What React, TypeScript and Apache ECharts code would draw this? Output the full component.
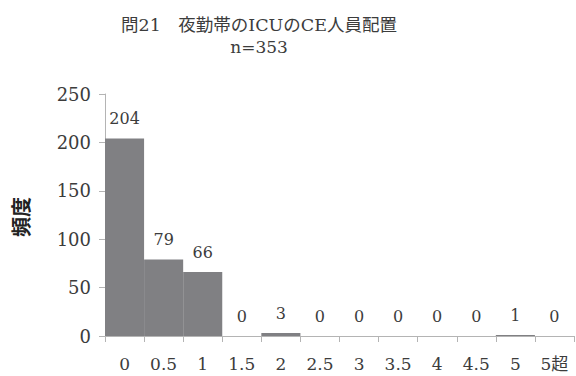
import React, { useEffect, useRef } from "react";
import * as echarts from "echarts";

const categories = ["0", "0.5", "1", "1.5", "2", "2.5", "3", "3.5", "4", "4.5", "5", "5超"];
const frequencies = [204, 79, 66, 0, 3, 0, 0, 0, 0, 0, 1, 0];
const yTicks = { min: 0, max: 250, interval: 50 };
const titleText = "問21　夜勤帯のICUのCE人員配置";
const subText = "n=353";
const yName = "頻度";

const FONT = "'DejaVu Serif', 'Liberation Serif', 'Noto Sans CJK JP', serif";
const TEXT = "#3c3c3c";

export default function App() {
  const ref = useRef<HTMLDivElement>(null);
  useEffect(() => {
    const chart = echarts.init(ref.current!, null, { renderer: "svg" });
    chart.setOption({
      animation: false,
      backgroundColor: "#ffffff",
      grid: { left: 105, right: 2, top: 94, bottom: 40, containLabel: false },
      graphic: [
        {
          type: "text",
          x: 259,
          y: 25,
          style: { text: titleText, font: `17.5px ${FONT}`, fill: TEXT, textAlign: "center", textVerticalAlign: "middle" },
        },
        {
          type: "text",
          x: 259,
          y: 47,
          style: { text: subText, font: `17px ${FONT}`, fill: TEXT, textAlign: "center", textVerticalAlign: "middle" },
        },
        {
          type: "text",
          x: 20,
          y: 217,
          rotation: Math.PI / 2,
          style: { text: yName, font: `bold 20px 'Noto Sans CJK JP', sans-serif`, fill: "#222", textAlign: "center", textVerticalAlign: "middle" },
        },
      ],
      xAxis: {
        type: "category",
        data: categories,
        boundaryGap: true,
        axisLine: { lineStyle: { color: "#b4b4b4", width: 1 } },
        axisTick: { show: true, alignWithLabel: false, length: 6, lineStyle: { color: "#b4b4b4" } },
        axisLabel: { interval: 0, margin: 19, color: TEXT, fontSize: 17, fontFamily: FONT },
        splitLine: { show: false },
      },
      yAxis: {
        type: "value",
        min: yTicks.min,
        max: yTicks.max,
        interval: yTicks.interval,
        axisLine: { show: true, lineStyle: { color: "#b4b4b4", width: 1 } },
        axisTick: { show: true, length: 6, lineStyle: { color: "#b4b4b4" } },
        axisLabel: { margin: 14, color: TEXT, fontSize: 18, fontFamily: FONT },
        splitLine: { show: false },
      },
      series: [
        {
          type: "bar",
          data: frequencies,
          barCategoryGap: "0%",
          itemStyle: { color: "#808083" },
          label: {
            show: true,
            position: "top",
            distance: 12,
            color: TEXT,
            fontSize: 16,
            fontFamily: FONT,
          },
        },
      ],
    });
    return () => chart.dispose();
  }, []);
  return <div ref={ref} style={{ width: 576, height: 376, position: "absolute", left: 0, top: 0 }} />;
}
